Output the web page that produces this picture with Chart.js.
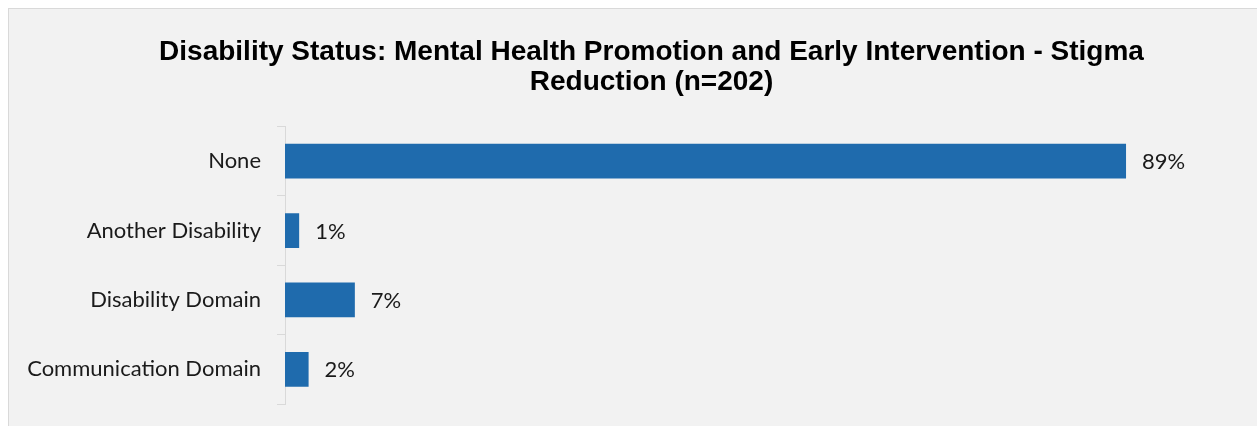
<!DOCTYPE html>
<html>
<head>
<meta charset="utf-8">
<script src="https://cdn.jsdelivr.net/npm/chart.js@4"></script>
<style>
    html, body { margin: 0; padding: 0; background: #ffffff; overflow: hidden; }
    #panel {
        position: absolute; left: 8px; top: 8px;
        width: 1300px; height: 430px;
        background: #f2f2f2; border: 1px solid #d9d9d9; box-sizing: border-box;
    }
    #wrap { position: absolute; left: 0; top: 0; width: 1295px; height: 426px; }
</style>
</head>
<body>
<div id="panel"></div>
<div id="wrap"><canvas id="chart"></canvas></div>
<script>
const titleLines = ['Disability Status: Mental Health Promotion and Early Intervention - Stigma', 'Reduction (n=202)'];
const categories = ['None', 'Another Disability', 'Disability Domain', 'Communication Domain'];
const percentages = [89.1, 1.5, 7.4, 2.5];
const shownLabels = ['89%', '1%', '7%', '2%'];

const barColor = '#1f6bad';
const textColor = '#1a1a1a';
const labelFont = {family: 'Lato', size: 22};

// draws the value labels just right of each bar
const valueLabels = {
    id: 'valueLabels',
    afterDatasetsDraw(chart) {
        const ctx = chart.ctx;
        const meta = chart.getDatasetMeta(0);
        ctx.save();
        ctx.fillStyle = textColor;
        ctx.font = `${labelFont.size}px ${labelFont.family}`;
        ctx.textAlign = 'left';
        ctx.textBaseline = 'middle';
        meta.data.forEach((bar, i) => {
            ctx.fillText(shownLabels[i], bar.x + 16, bar.y + 1);
        });
        ctx.restore();
    }
};

const ctx = document.getElementById('chart').getContext('2d');

new Chart(ctx, {
    type: 'bar',
    data: {
        labels: categories,
        datasets: [{
            data: percentages,
            backgroundColor: barColor,
            categoryPercentage: 1,
            barPercentage: 0.5,
        }]
    },
    options: {
        indexAxis: 'y',
        responsive: true,
        maintainAspectRatio: false,
        animation: false,
        layout: {padding: {left: 8, right: 0, top: 0, bottom: 22}},
        plugins: {
            legend: {display: false},
            tooltip: {enabled: false},
            title: {
                display: true,
                text: titleLines,
                color: '#000000',
                font: {family: 'Liberation Sans', size: 28, weight: 'bold', lineHeight: 1.08},
                padding: {top: 37, bottom: 29},
            },
        },
        scales: {
            x: {
                display: false,
                min: 0,
                max: 107,
            },
            y: {
                offset: true,
                afterFit(scale) {
                    scale.width = 277;
                    scale.paddingTop = 0;
                    scale.paddingBottom = 0;
                },
                border: {display: true, color: '#d9d9d9', width: 1},
                grid: {
                    offset: true,
                    drawOnChartArea: false,
                    drawTicks: true,
                    tickLength: 8,
                    color: '#d9d9d9',
                },
                ticks: {
                    color: textColor,
                    font: labelFont,
                    padding: 16,
                },
            },
        },
    },
    plugins: [valueLabels],
});
</script>
</body>
</html>
